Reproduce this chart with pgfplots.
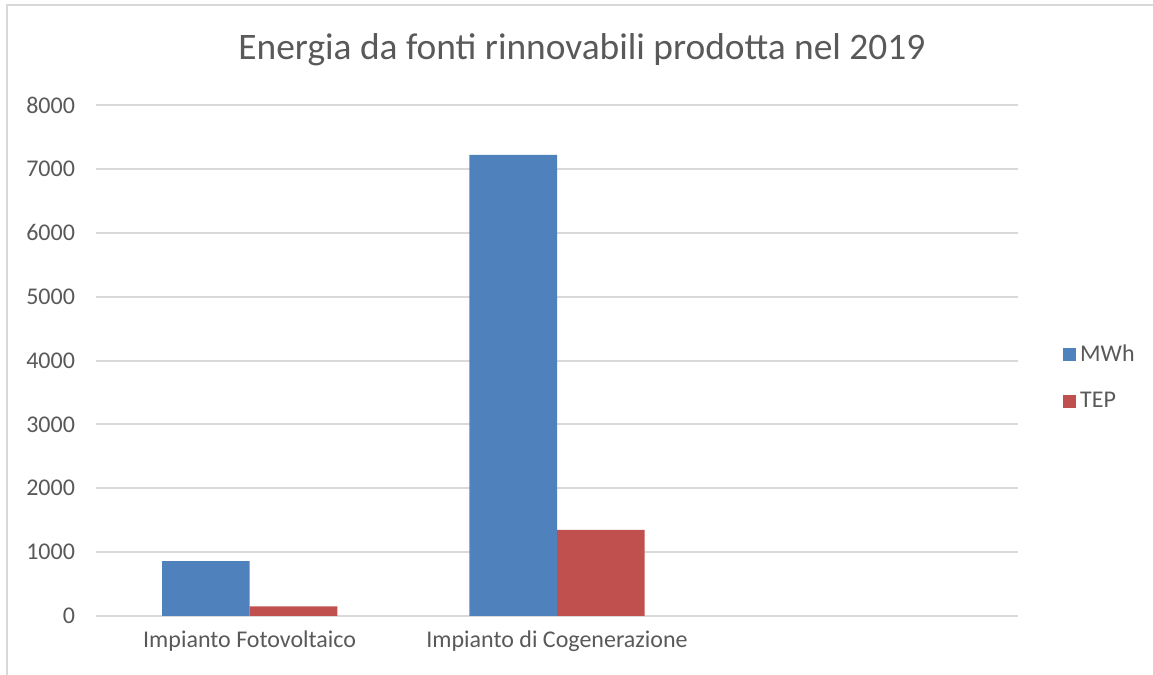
\documentclass[border=0pt]{standalone}
\usepackage{pgfplots}
\pgfplotsset{compat=1.18}
\usepackage{fontspec}
\setmainfont{Carlito}
\definecolor{mwh}{HTML}{4F81BD}
\definecolor{tep}{HTML}{C0504D}
\definecolor{gridc}{HTML}{D9D9D9}
\definecolor{txt}{HTML}{595959}
\begin{document}
\begin{tikzpicture}
\useasboundingbox (0pt,0pt) rectangle (576.5pt,337.5pt);
\draw[gridc,line width=1pt] (3.5pt,0pt) -- (3.5pt,335pt) -- (576.5pt,335pt);
\node[txt,font=\fontsize{18.7}{22}\selectfont] at (291pt,312.5pt) {Energia da fonti rinnovabili prodotta nel 2019};
\begin{axis}[
  at={(48pt,29.5pt)}, anchor=south west,
  scale only axis, width=461pt, height=255.5pt,
  ybar=0pt, bar width=0.285,
  xmin=-0.5, xmax=2.5, ymin=0, ymax=8000,
  xtick={0,1,2}, xticklabels={Impianto Fotovoltaico,Impianto di Cogenerazione,{}},
  ytick={0,1000,...,8000},
  axis line style={draw=none},
  major tick length=0pt,
  ymajorgrids, grid style={gridc,line width=1pt},
  tick label style={txt,font=\fontsize{12}{14}\selectfont},
  /pgf/number format/assume math mode=true,
  /pgf/number format/1000 sep={},
  yticklabel style={xshift=-7pt},
  xticklabel style={yshift=-4pt},
  legend style={at={(1.042,0.466)}, anchor=west, draw=none, fill=none,
    font=\fontsize{12}{14}\selectfont, text=txt, row sep=10pt},
  legend cell align=left,
  legend image code/.code={\fill[#1] (0pt,-3.25pt) rectangle (6.5pt,3.25pt);},
]
\addplot[fill=mwh, draw=none] coordinates {(0,860) (1,7220)};
\addplot[fill=tep, draw=none] coordinates {(0,150) (1,1350)};
\legend{MWh,TEP}
\end{axis}
\end{tikzpicture}
\end{document}
